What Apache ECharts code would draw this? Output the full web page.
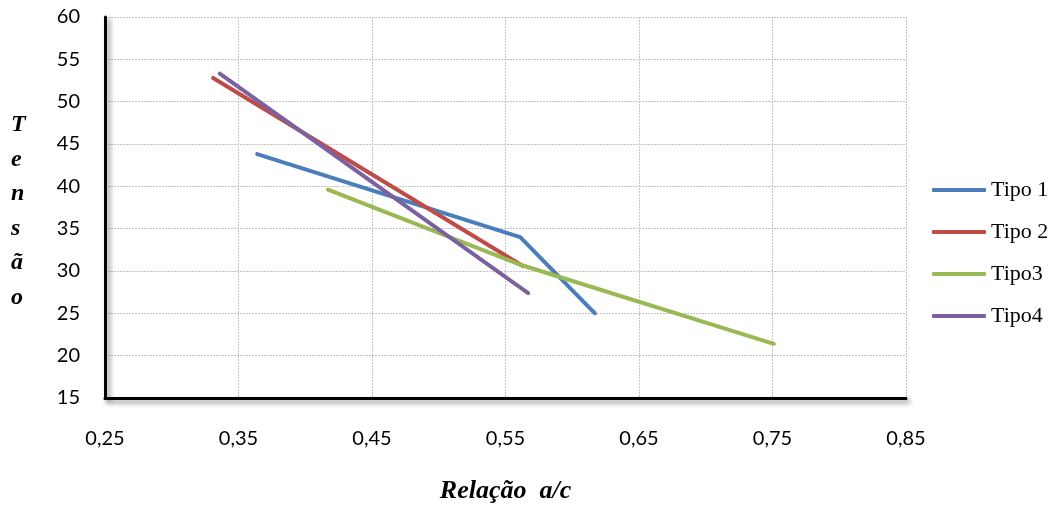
<!DOCTYPE html>
<html>
<head>
<meta charset="utf-8">
<script src="https://cdn.jsdelivr.net/npm/echarts@6/dist/echarts.min.js"></script>
<style>
html,body{margin:0;padding:0;background:#fff;}
#chart{width:1058px;height:509px;}
</style>
</head>
<body>
<div id="chart"></div>
<script>
const seriesNames = ['Tipo 1', 'Tipo 2', 'Tipo3', 'Tipo4'];
const tipo1 = [[0.364, 43.8], [0.561, 34.0], [0.617, 25.0]];
const tipo2 = [[0.331, 52.8], [0.563, 30.6]];
const tipo3 = [[0.417, 39.6], [0.560, 30.8], [0.751, 21.4]];
const tipo4 = [[0.336, 53.3], [0.567, 27.4]];
const colors = ['#4A7EBB', '#BE4B48', '#98B954', '#7D60A0'];
const xTicks = [0.25, 0.35, 0.45, 0.55, 0.65, 0.75, 0.85];
const yTicks = [15, 20, 25, 30, 35, 40, 45, 50, 55, 60];

const chart = echarts.init(document.getElementById('chart'));
const allData = [tipo1, tipo2, tipo3, tipo4];
const axisShadow = {color: '#000', width: 3, shadowColor: 'rgba(0,0,0,0.45)', shadowBlur: 5, shadowOffsetX: 3, shadowOffsetY: 3};
const splitStyle = {color: '#c4c4c4', width: 1, type: [2, 1]};
chart.setOption({
  animation: false,
  backgroundColor: '#fff',
  color: colors,
  grid: {left: 105, right: 152, top: 17, bottom: 106},
  legend: {
    orient: 'vertical', left: 927, top: 174,
    itemWidth: 54, itemHeight: 4, itemGap: 20, icon: 'roundRect',
    textStyle: {fontFamily: 'Liberation Serif', fontSize: 22, lineHeight: 22, color: '#000', padding: [0,0,0,0]},
    data: seriesNames
  },
  xAxis: {
    type: 'value', min: xTicks[0], max: xTicks[xTicks.length - 1], interval: 0.1,
    name: 'Relação  a/c', nameLocation: 'middle', nameGap: 80,
    nameTextStyle: {fontFamily: 'Liberation Serif', fontWeight: 'bold', fontStyle: 'italic', fontSize: 26, color: '#000'},
    axisLine: {show: true, onZero: false, lineStyle: axisShadow},
    axisTick: {show: false},
    axisLabel: {margin: 31, fontFamily: 'Lato', fontSize: 20, color: '#000',
      formatter: v => v.toFixed(2).replace('.', ',')},
    splitLine: {show: true, lineStyle: splitStyle}
  },
  yAxis: {
    type: 'value', min: yTicks[0], max: yTicks[yTicks.length - 1], interval: 5,
    axisLine: {show: true, onZero: false, lineStyle: axisShadow},
    axisTick: {show: false},
    axisLabel: {margin: 25, fontFamily: 'Lato', fontSize: 20, color: '#000'},
    splitLine: {show: true, lineStyle: splitStyle}
  },
  graphic: [{
    type: 'text', left: 11, top: 108,
    style: {text: 'T\ne\nn\ns\nã\no', fontFamily: 'Liberation Serif', fontWeight: 'bold', fontStyle: 'italic',
      fontSize: 24, lineHeight: 34.5, fill: '#000', align: 'left'}
  }],
  series: allData.map((d, i) => ({
    name: seriesNames[i], type: 'line', data: d, symbol: 'none', showSymbol: false,
    lineStyle: {width: 4, color: colors[i], cap: 'round', join: 'round'},
    z: 3 + i
  }))
});
</script>
</body>
</html>
